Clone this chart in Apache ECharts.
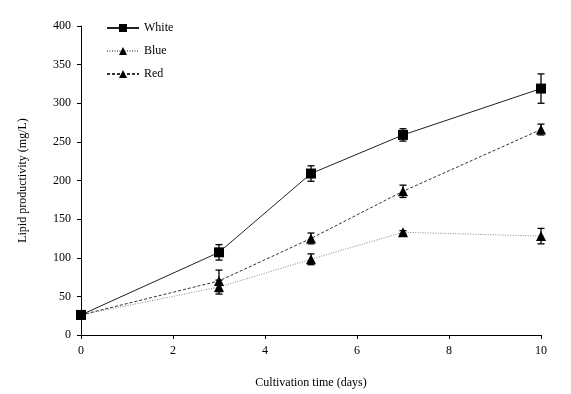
<!DOCTYPE html>
<html>
<head>
<meta charset="utf-8">
<script src="https://cdn.jsdelivr.net/npm/echarts@6/dist/echarts.min.js"></script>
<style>html,body{margin:0;padding:0;background:#fff;}#c{width:571px;height:394px;}</style>
</head>
<body>
<div id="c"></div>
<script>
var days = [0, 3, 5, 7, 10];
var whiteVals = [26, 107, 209, 259, 319];
var whiteErr = [3, 10, 10, 8, 19];
var blueVals = [26, 62, 98, 133, 128];
var blueErr = [2, 9, 7, 2, 10];
var redVals = [26, 70, 125, 186, 266];
var redErr = [2, 14, 7, 8, 7];
var yTicks = [0, 50, 100, 150, 200, 250, 300, 350, 400];
var xTicks = [0, 2, 4, 6, 8, 10];

var FONT = 'Liberation Serif';

function pairs(v) { return days.map(function (d, i) { return [d, v[i]]; }); }
function errData(v, e) { return days.map(function (d, i) { return [d, v[i] - e[i], v[i] + e[i]]; }); }

function errSeries(v, e) {
  return {
    type: 'custom',
    data: errData(v, e),
    z: 1,
    silent: true,
    renderItem: function (params, api) {
      var x = api.value(0);
      var lo = api.coord([x, api.value(1)]);
      var hi = api.coord([x, api.value(2)]);
      var w = 3.5;
      var st = { stroke: '#000', lineWidth: 1.3 };
      return {
        type: 'group',
        children: [
          { type: 'line', shape: { x1: lo[0], y1: lo[1], x2: hi[0], y2: hi[1] }, style: st },
          { type: 'line', shape: { x1: lo[0] - w, y1: lo[1], x2: lo[0] + w, y2: lo[1] }, style: st },
          { type: 'line', shape: { x1: hi[0] - w, y1: hi[1], x2: hi[0] + w, y2: hi[1] }, style: st }
        ]
      };
    }
  };
}

var chart = echarts.init(document.getElementById('c'), null, { renderer: 'canvas' });
chart.setOption({
  animation: false,
  backgroundColor: '#fff',
  textStyle: { fontFamily: FONT },
  grid: { left: 81, right: 30, top: 26, bottom: 58 },
  legend: {
    orient: 'vertical',
    left: 106,
    top: 22,
    padding: 0,
    itemWidth: 32,
    itemHeight: 10,
    itemGap: 11,
    textStyle: { fontFamily: FONT, fontSize: 12, color: '#000' },
    data: ['White', 'Blue', 'Red']
  },
  xAxis: {
    type: 'value',
    min: 0, max: 10, interval: 2,
    name: 'Cultivation time (days)',
    nameLocation: 'middle',
    nameGap: 42,
    nameTextStyle: { fontFamily: FONT, fontSize: 12, color: '#000' },
    axisLine: { lineStyle: { color: '#000', width: 1 } },
    axisTick: { show: true, inside: false, length: 4, lineStyle: { color: '#000' } },
    axisLabel: { fontFamily: FONT, fontSize: 12, color: '#000', margin: 10 },
    splitLine: { show: false }
  },
  yAxis: {
    type: 'value',
    min: 0, max: 400, interval: 50,
    name: 'Lipid productivity (mg/L)',
    nameLocation: 'middle',
    nameGap: 52,
    nameTextStyle: { fontFamily: FONT, fontSize: 12, color: '#000' },
    axisLine: { show: true, lineStyle: { color: '#000', width: 1 } },
    axisTick: { show: true, inside: false, length: 4, lineStyle: { color: '#000' } },
    axisLabel: { fontFamily: FONT, fontSize: 12, color: '#000', margin: 10 },
    splitLine: { show: false }
  },
  series: [
    errSeries(whiteVals, whiteErr),
    errSeries(blueVals, blueErr),
    errSeries(redVals, redErr),
    {
      name: 'White', type: 'line', data: pairs(whiteVals),
      symbol: 'rect', symbolSize: 10,
      itemStyle: { color: '#000' },
      lineStyle: { color: '#222', width: 1, type: 'solid' },
      z: 3
    },
    {
      name: 'Blue', type: 'line', data: pairs(blueVals),
      symbol: 'triangle', symbolSize: 10,
      itemStyle: { color: '#000' },
      lineStyle: { color: '#888', width: 1, type: [1, 1.5] },
      z: 3
    },
    {
      name: 'Red', type: 'line', data: pairs(redVals),
      symbol: 'triangle', symbolSize: 10,
      itemStyle: { color: '#000' },
      lineStyle: { color: '#333', width: 1, type: [3, 2] },
      z: 3
    }
  ]
});
</script>
</body>
</html>
